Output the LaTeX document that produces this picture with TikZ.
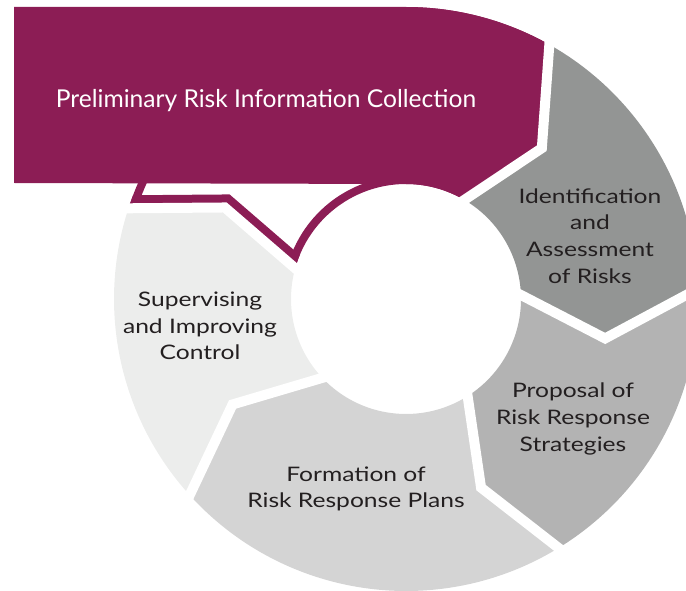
\documentclass[tikz,border=0pt]{standalone}
\usepackage{fontspec}
\setmainfont{Lato}
\newfontfamily\labelfont{Lato}[FakeStretch=1.23]
\usetikzlibrary{calc}
\definecolor{segmagenta}{HTML}{8C1D55}
\definecolor{segident}{HTML}{939594}
\definecolor{segprop}{HTML}{B3B3B3}
\definecolor{segform}{HTML}{D4D4D4}
\definecolor{segsuper}{HTML}{ECEDEC}
\definecolor{labeltext}{HTML}{231F20}
\def\Rout{292}
\def\Rin{115}
\def\Rmid{203}
% #1 trailing outer, #2 trailing vertex, #3 trailing inner, #4 leading outer, #5 leading vertex, #6 leading inner
\newcommand\ringseg[6]{($(C)+(#1:\Rout pt)$) arc[start angle=#1, end angle=#4, radius=\Rout pt] -- ($(C)+(#5:\Rmid pt)$) -- ($(C)+(#6:\Rin pt)$) arc[start angle=#6, end angle=#3, radius=\Rin pt] -- ($(C)+(#2:\Rmid pt)$) -- cycle}
\tikzset{
  gapline/.style={draw=white, line width=10pt, line join=miter},
  seglabel/.style={text=labeltext, align=center, inner sep=0pt, font=\labelfont\fontsize{20}{26.7}\selectfont},
  toplabel/.style={text=white, inner sep=0pt, font=\fontsize{24.6}{28}\selectfont}
}
\begin{document}
\begin{tikzpicture}[x=1pt,y=1pt]
\useasboundingbox (0,0) rectangle (686,590);
\coordinate (C) at (406,291);
% boundary points
\coordinate (B1o) at ($(C)+(60.6:\Rout pt)$);
\coordinate (B1v) at ($(C)+(48:\Rmid pt)$);
\coordinate (B1i) at ($(C)+(59.5:\Rin pt)$);
\coordinate (B2o) at ($(C)+(2:\Rout pt)$);
\coordinate (B2v) at ($(C)+(-11.2:\Rmid pt)$);
\coordinate (B2i) at ($(C)+(2:\Rin pt)$);
\coordinate (B3o) at ($(C)+(-58.5:\Rout pt)$);
\coordinate (B3v) at ($(C)+(-68.3:\Rmid pt)$);
\coordinate (B3i) at ($(C)+(-57.6:\Rin pt)$);
\coordinate (B4o) at ($(C)+(222.2:\Rout pt)$);
\coordinate (B4v) at ($(C)+(211.3:\Rmid pt)$);
\coordinate (B4i) at ($(C)+(223.3:\Rin pt)$);
\coordinate (B5o) at ($(C)+(161.9:\Rout pt)$);
\coordinate (B5v) at ($(C)+(153.2:\Rmid pt)$);
\coordinate (B5i) at ($(C)+(164.5:\Rin pt)$);
% grey segments
\fill[segident] \ringseg{60.6}{48}{59.5}{2}{-11.2}{2};
\fill[segprop] \ringseg{2}{-11.2}{2}{-58.5}{-68.3}{-57.6};
\fill[segform] \ringseg{-58.5}{-68.3}{-57.6}{-137.8}{-148.7}{-136.7};
\fill[segsuper] \ringseg{222.2}{211.3}{223.3}{161.9}{153.2}{164.5};
% magenta segment: outlined tail
\begin{scope}
  \clip \ringseg{161.9}{153.2}{164.5}{60.6}{48}{59.5};
  \draw[segmagenta, line width=16pt] \ringseg{161.9}{153.2}{164.5}{60.6}{48}{59.5};
  \draw[segmagenta, line width=26pt, line join=miter] ($(B5v)!1.3!(B5o)$) -- (B5v) -- ($(B5v)!1.4!(B5i)$);
\end{scope}
% magenta banner
\fill[segmagenta] (14,407) -- (14,583) -- (406,583) arc[start angle=90, end angle=60.6, radius=\Rout pt] -- (B1v) -- (B1i) arc[start angle=59.5, end angle=90, radius=\Rin pt] -- cycle;
% gaps
\draw[gapline] ($(B1v)!1.3!(B1o)$) -- (B1v) -- ($(B1v)!1.4!(B1i)$);
\draw[gapline] ($(B2v)!1.3!(B2o)$) -- (B2v) -- ($(B2v)!1.4!(B2i)$);
\draw[gapline] ($(B3v)!1.3!(B3o)$) -- (B3v) -- ($(B3v)!1.4!(B3i)$);
\draw[gapline] ($(B4v)!1.3!(B4o)$) -- (B4v) -- ($(B4v)!1.4!(B4i)$);
\draw[gapline] ($(B5v)!1.3!(B5o)$) -- (B5v) -- ($(B5v)!1.4!(B5i)$);
% labels
\node[toplabel, anchor=base] (tprelim) at (266,482) {Preliminary Risk Information Collection};
\node[seglabel] (tident) at (590,354) {Identification\\and\\Assessment\\of Risks};
\node[seglabel] (tprop) at (573,171) {Proposal of\\Risk Response\\Strategies};
\node[seglabel] (tform) at (356,101) {Formation of\\Risk Response Plans};
\node[seglabel] (tsuper) at (200,264) {Supervising\\and Improving\\Control};
\end{tikzpicture}
\end{document}
